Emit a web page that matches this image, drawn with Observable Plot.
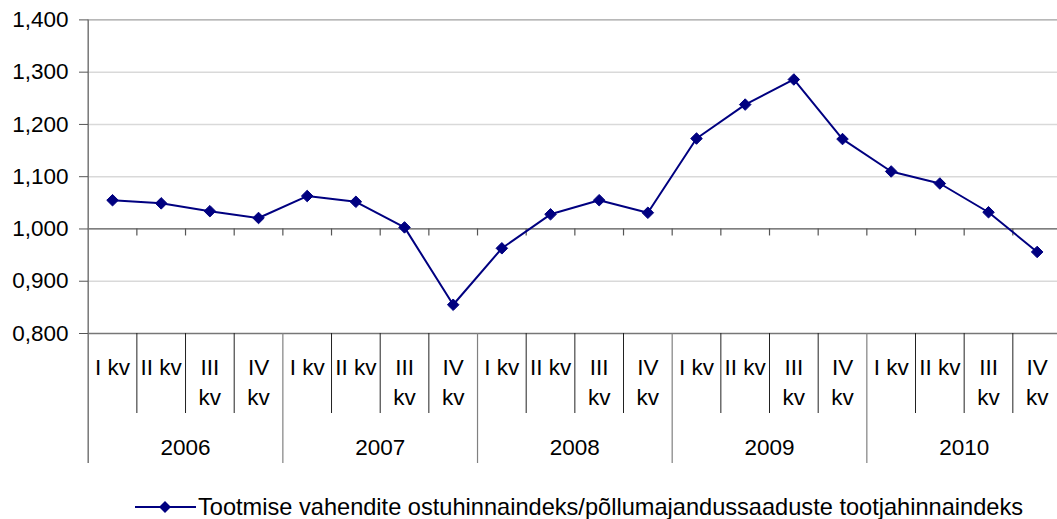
<!DOCTYPE html>
<html>
<head>
<meta charset="utf-8">
<script src="https://cdn.jsdelivr.net/npm/d3@7"></script>
<script src="https://cdn.jsdelivr.net/npm/@observablehq/plot@0.6"></script>
<style>
  html, body { margin: 0; padding: 0; background: #fff; }
  body { width: 1057px; height: 519px; overflow: hidden; font-family: "Liberation Sans", Arial, sans-serif; }
  #legend { position: relative; height: 49px; }
  #legend svg { position: absolute; left: 133px; top: 27px; }
  #legend span { position: absolute; left: 198px; top: 23px; font-size: 23.6px; color: #000; white-space: nowrap; line-height: 28px; }
</style>
</head>
<body>
<div id="chart"></div>
<div id="legend">
  <svg width="66" height="20"><line x1="2" y1="10" x2="63" y2="10" stroke="#000080" stroke-width="2"/><path d="M32,4L38,10L32,16L26,10Z" fill="#000080"/></svg>
  <span>Tootmise vahendite ostuhinnaindeks/põllumajandussaaduste tootjahinnaindeks</span>
</div>
<script>
const years = ["2006", "2007", "2008", "2009", "2010"];
const quarterLabels = ["I kv", "II kv", "III\nkv", "IV\nkv"];
const values = [1.055, 1.049, 1.034, 1.021, 1.063, 1.052, 1.003, 0.855, 0.963, 1.028,
                1.055, 1.031, 1.173, 1.238, 1.286, 1.172, 1.110, 1.087, 1.032, 0.956];
const yTicks = [0.8, 0.9, 1.0, 1.1, 1.2, 1.3, 1.4];
const seriesName = "Tootmise vahendite ostuhinnaindeks/põllumajandussaaduste tootjahinnaindeks";

const data = values.map((v, i) => ({i, v, year: years[Math.floor(i / 4)], q: quarterLabels[i % 4]}));
const boundaries = d3.range(0, values.length + 1).map(k => k - 0.5);
const quarterBounds = boundaries.filter((b, k) => k % 4 !== 0);
const yearBounds = boundaries.filter((b, k) => k % 4 === 0);
const yearData = years.map((y, k) => ({year: y, c: k * 4 + 1.5}));
const fmt = d => d3.format(".3f")(d).replace(".", ",");

const plot = Plot.plot({
  width: 1057,
  height: 470,
  marginLeft: 88,
  marginRight: 0,
  marginTop: 19.4,
  marginBottom: 137,
  style: {fontFamily: "'Liberation Sans', Arial, sans-serif", fontSize: "22.5px", color: "#000", background: "#fff"},
  x: {type: "linear", domain: [-0.5, 19.5], range: [87.7, 1061], axis: null},
  y: {domain: [0.8, 1.4], range: [333, 19.4], axis: null},
  marks: [
    Plot.ruleY(yTicks.filter(t => t > 0.85 && t < 1.35 && Math.abs(t - 1) > 0.01), {stroke: "#d9d9d9", strokeWidth: 1.5}),
    Plot.ruleY([1.4], {stroke: "#a0a0a0", strokeWidth: 1.2}),
    Plot.ruleY([0.8], {stroke: "#777", strokeWidth: 1.5}),
    Plot.ruleY([1.0], {stroke: "#555", strokeWidth: 1.2}),
    Plot.ruleX(boundaries.slice(1), {x: d => d, y1: 1.0, y2: 1.0, insetBottom: -7, stroke: "#555", strokeWidth: 1.2}),
    Plot.ruleX(quarterBounds, {x: d => d, y1: 0.8, y2: 0.8, insetBottom: -80, stroke: "#222", strokeWidth: 1}),
    Plot.ruleX(yearBounds.slice(1), {x: d => d, y1: 0.8, y2: 0.8, insetBottom: -130, stroke: "#808080", strokeWidth: 1.2}),
    Plot.ruleX([-0.5], {x: d => d, insetBottom: -130, stroke: "#777", strokeWidth: 1.5}),
    Plot.axisY({ticks: yTicks, tickSize: 9, tickPadding: 11, tickFormat: fmt, stroke: "#555", fontSize: 22.5, label: null}),
    Plot.text(data, {x: "i", text: "q", frameAnchor: "bottom", dy: 20, lineAnchor: "top", lineHeight: 1.333, fontSize: 22.5, fill: "#000"}),
    Plot.text(yearData, {x: "c", text: "year", frameAnchor: "bottom", dy: 114, lineAnchor: "middle", fontSize: 22.5, fill: "#000"}),
    Plot.line(data, {x: "i", y: "v", stroke: "#000080", strokeWidth: 2}),
    Plot.dot(data, {x: "i", y: "v", symbol: "diamond2", r: 5.2, fill: "#000080", stroke: "#000080", strokeWidth: 1})
  ]
});
document.getElementById("chart").appendChild(plot);
</script>
</body>
</html>
